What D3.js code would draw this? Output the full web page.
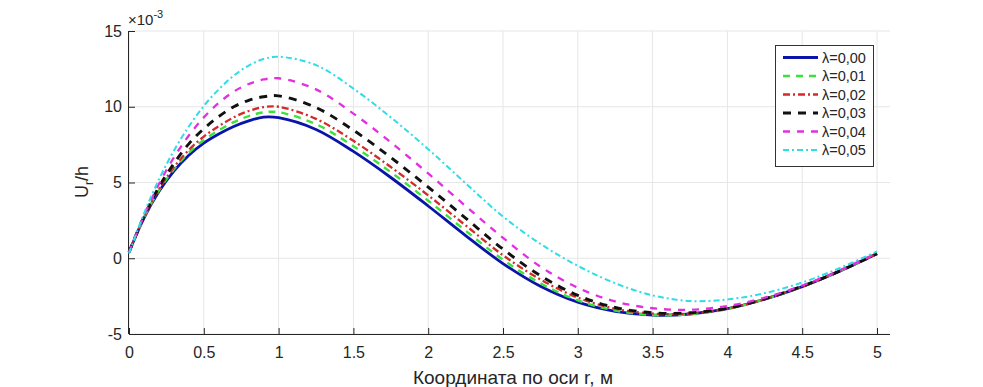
<!DOCTYPE html>
<html><head><meta charset="utf-8">
<script src="https://cdn.jsdelivr.net/npm/d3@7"></script>
<style>body{margin:0;background:#fff}svg{display:block}text{font-family:"Liberation Sans",Arial,sans-serif}</style>
</head><body><svg id="c" width="983" height="387"></svg>
<script>
const xs = [0, 0.1, 0.2, 0.3, 0.4, 0.5, 0.6, 0.7, 0.8, 0.9, 1.0, 1.25, 1.5, 1.75, 2.0, 2.25, 2.5, 2.75, 3.0, 3.25, 3.5, 3.75, 4.0, 4.25, 4.5, 4.75, 5.0];
const lam000 = [0.4, 2.65, 4.4, 5.75, 6.8, 7.6, 8.2, 8.7, 9.07, 9.32, 9.28, 8.5, 7.05, 5.33, 3.45, 1.5, -0.35, -1.85, -2.9, -3.5, -3.75, -3.68, -3.33, -2.7, -1.87, -0.85, 0.3];
const lam001 = [0.4, 2.68, 4.47, 5.87, 6.97, 7.8, 8.45, 8.98, 9.38, 9.63, 9.64, 8.85, 7.4, 5.68, 3.8, 1.82, -0.1, -1.65, -2.78, -3.45, -3.75, -3.7, -3.35, -2.7, -1.87, -0.85, 0.3];
const lam002 = [0.4, 2.7, 4.55, 6.0, 7.15, 8.03, 8.72, 9.3, 9.72, 9.98, 10.0, 9.2, 7.75, 6.02, 4.15, 2.17, 0.2, -1.4, -2.6, -3.33, -3.65, -3.65, -3.33, -2.7, -1.87, -0.85, 0.3];
const lam003 = [0.4, 2.75, 4.7, 6.25, 7.55, 8.55, 9.35, 10.0, 10.42, 10.66, 10.72, 9.95, 8.45, 6.65, 4.7, 2.65, 0.6, -1.15, -2.45, -3.25, -3.6, -3.6, -3.3, -2.68, -1.85, -0.85, 0.3];
const lam004 = [0.4, 2.8, 4.9, 6.65, 8.1, 9.3, 10.25, 11.0, 11.5, 11.8, 11.88, 11.15, 9.55, 7.65, 5.6, 3.45, 1.35, -0.55, -1.95, -2.85, -3.3, -3.4, -3.15, -2.6, -1.8, -0.8, 0.35];
const lam005 = [0.3, 2.95, 5.2, 7.1, 8.7, 10.05, 11.15, 12.05, 12.72, 13.15, 13.3, 12.75, 11.2, 9.3, 7.2, 4.95, 2.75, 0.95, -0.5, -1.65, -2.45, -2.82, -2.72, -2.3, -1.6, -0.65, 0.45];
const seriesNames = ["λ=0,00", "λ=0,01", "λ=0,02", "λ=0,03", "λ=0,04", "λ=0,05"];
const xTicks = [0, 0.5, 1, 1.5, 2, 2.5, 3, 3.5, 4, 4.5, 5];
const xTickLabels = ["0", "0.5", "1", "1.5", "2", "2.5", "3", "3.5", "4", "4.5", "5"];
const yTicks = [-5, 0, 5, 10, 15];
const yTickLabels = ["-5", "0", "5", "10", "15"];
const xLabel = "Координата по оси r, м";
const exponentText = "×10";
const exponentSup = "-3";

const colors = ["#0a14a8", "#3ce23c", "#d42a2a", "#111111", "#e030e0", "#30dce6"];
const dashes = [null, "7,6", "7,3,2,3", "8,7", "7,7", "6,3,2,3"];
const widths = [2.8, 2.4, 2.3, 2.9, 2.3, 2.0];

const allSeries = [lam000, lam001, lam002, lam003, lam004, lam005];

const svg = d3.select("#c");
const L = 129, R = 890, T = 31, B = 334;
const x = d3.scaleLinear().domain([0, 5]).range([L, 877]);
const y = d3.scaleLinear().domain([-5, 15]).range([B, T]);
const ink = "#262626";
const font = "Liberation Sans, Arial, sans-serif";

// grid
const g = svg.append("g");
g.selectAll("line.vx").data(xTicks).join("line")
  .attr("x1", d => x(d)).attr("x2", d => x(d)).attr("y1", T).attr("y2", B)
  .attr("stroke", "#e6e6e6").attr("stroke-width", 1);
g.selectAll("line.hy").data(yTicks).join("line")
  .attr("x1", L).attr("x2", R).attr("y1", d => y(d)).attr("y2", d => y(d))
  .attr("stroke", "#e6e6e6").attr("stroke-width", 1);

// axes
const xAxis = d3.axisBottom(x).tickValues(xTicks).tickFormat((d, i) => xTickLabels[i]).tickSizeInner(-6).tickSizeOuter(0).tickPadding(13);
const gx = svg.append("g").attr("transform", `translate(0,${B})`).call(xAxis);
gx.select(".domain").remove();
gx.append("line").attr("x1", L).attr("x2", R).attr("y1", 0.5).attr("y2", 0.5).attr("stroke", ink);
gx.selectAll(".tick line").attr("stroke", ink);
gx.selectAll(".tick text").attr("fill", ink).attr("font-size", 16).attr("font-family", font);

const yAxis = d3.axisLeft(y).tickValues(yTicks).tickFormat((d, i) => yTickLabels[i]).tickSizeInner(-6).tickSizeOuter(0).tickPadding(7);
const gy = svg.append("g").attr("transform", `translate(${L},0)`).call(yAxis);
gy.select(".domain").remove();
gy.append("line").attr("x1", -0.5).attr("x2", -0.5).attr("y1", T).attr("y2", B).attr("stroke", ink);
gy.selectAll(".tick line").attr("stroke", ink);
gy.selectAll(".tick text").attr("fill", ink).attr("font-size", 16).attr("font-family", font);

// lines
const line = d3.line().x((d, i) => x(xs[i])).y(d => y(d)).curve(d3.curveCatmullRom.alpha(0.5));
const plot = svg.append("g");
allSeries.forEach((s, k) => {
  plot.append("path").attr("d", line(s)).attr("fill", "none")
    .attr("stroke", colors[k]).attr("stroke-width", widths[k])
    .attr("stroke-dasharray", dashes[k]);
});

// labels
svg.append("text").attr("x", 513).attr("y", 384).attr("text-anchor", "middle")
  .attr("font-size", 19).attr("fill", ink).text(xLabel);
const yl = svg.append("text").attr("transform", "translate(88,182) rotate(-90)").attr("text-anchor", "middle")
  .attr("font-size", 18).attr("fill", ink);
yl.append("tspan").text("U");
yl.append("tspan").attr("font-size", 12).attr("dy", 5).text("r");
yl.append("tspan").attr("dy", -5).text("/h");

const ex = svg.append("text").attr("x", 128).attr("y", 25).attr("font-size", 15).attr("fill", ink);
ex.append("tspan").text(exponentText);
ex.append("tspan").attr("font-size", 11).attr("dy", -7).text(exponentSup);

// legend
const lg = svg.append("g");
lg.append("rect").attr("x", 775.5).attr("y", 45.5).attr("width", 98).attr("height", 121)
  .attr("fill", "#fff").attr("stroke", "#333").attr("stroke-width", 1);
seriesNames.forEach((n, k) => {
  const yy = 57.5 + k * 18.5;
  lg.append("line").attr("x1", 783).attr("x2", 818).attr("y1", yy).attr("y2", yy)
    .attr("stroke", colors[k]).attr("stroke-width", widths[k]).attr("stroke-dasharray", dashes[k]);
  lg.append("text").attr("x", 822).attr("y", yy + 5).attr("font-size", 14.5).attr("fill", ink).text(n);
});
</script></body></html>
